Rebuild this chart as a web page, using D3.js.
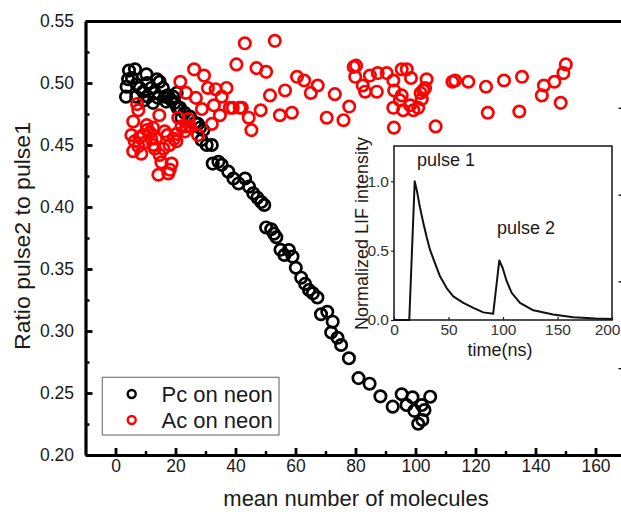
<!DOCTYPE html>
<html>
<head>
<meta charset="utf-8">
<script src="https://cdn.jsdelivr.net/npm/d3@7"></script>
<style>
  html, body { margin: 0; padding: 0; background: #fff; }
  svg { display: block; font-family: "Liberation Sans", Arial, sans-serif; }
</style>
</head>
<body>
<svg id="chart" width="621" height="516"></svg>
<script>
// ---------- data ----------
const pcX = [3.5,3.7,4.2,4.5,6.5,5.5,7,8.1,9.2,10.3,10.6,11.9,13.1,13.8,14.7,15.8,6.9,10.8,14.2,16.5,17.5,18.7,19.2,20.4,16.9,19.7,20.6,21.5,23,24.8,26.5,27.5,28.2,29.3,28.7,30.4,32.1,12.5,9.5,22,
  32.4,34.3,35.4,37.6,39.3,41,43.2,44.5,45.9,47.3,48.6,49.6,50.2,51.9,52.8,53.6,55,56.3,57.8,59,60.1,61.9,63.2,64.5,65.8,67.3,68.5,70.6,72.4,71.9,74,75.2,77.8,81,84.7,88.3,92.4,95.4,97,99,99.6,100.9,102.3,102.1,103,104.9];
const pcY = [0.489,0.497,0.503,0.510,0.511,0.504,0.499,0.496,0.493,0.507,0.500,0.496,0.492,0.503,0.501,0.496,0.489,0.489,0.488,0.489,0.490,0.486,0.489,0.492,0.485,0.484,0.480,0.480,0.476,0.473,0.468,0.467,0.464,0.462,0.454,0.450,0.450,0.484,0.486,0.472,
  0.435,0.4365,0.434,0.4285,0.423,0.419,0.423,0.4164,0.411,0.4075,0.404,0.4016,0.3835,0.382,0.3785,0.3756,0.3655,0.3613,0.3653,0.360,0.351,0.343,0.338,0.3331,0.3304,0.327,0.3135,0.3155,0.3075,0.2988,0.2945,0.2887,0.278,0.262,0.2575,0.2473,0.239,0.249,0.2403,0.2465,0.2356,0.2252,0.2282,0.2403,0.2363,0.247];

const acX = [7.2,7.6,5.9,10.4,14.6,5.3,6.4,5.9,7.6,9.2,9.8,8.6,11.5,11.9,12.6,13.1,14.7,15.3,14.3,17.6,18.7,18.1,17.3,16.4,19.5,20.4,20.3,20.9,23.2,23.6,24.8,24.3,27.5,10.5,8,12.5,16,18,22,13.5,
  21.6,23.5,26.2,29.5,26.8,28.8,30.8,33.4,35.4,37,32.8,34.8,32.1,38.1,41.4,40.3,43.1,44.4,45.3,47,50.2,48.4,51.5,53.1,54.8,56.5,58.8,60.5,62.9,65.1,67.4,70.4,73.1,76,77.9,79.4,80.2,79.9,82.4,83.2,84.8,87.4,87.1,90.4,92.6,92.9,95.4,97.1,98.5,94.8,92.6,92.8,98.2,95.9,100.9,102.6,103.7,102.1,103.2,101.7,95.4,99.3,106.7,112.3,113.2,117.6,123.5,124.1,129.5,134.6,135.5,142.1,142.8,146.3,149.3,150.1,148.4,39.1,42.1];
const acY = [0.483,0.478,0.469,0.466,0.474,0.458,0.453,0.445,0.449,0.458,0.452,0.443,0.460,0.455,0.450,0.447,0.442,0.436,0.426,0.427,0.435,0.430,0.458,0.461,0.455,0.459,0.453,0.472,0.461,0.465,0.465,0.471,0.458,0.462,0.456,0.464,0.447,0.450,0.465,0.455,
  0.501,0.492,0.511,0.506,0.488,0.479,0.496,0.495,0.489,0.496,0.482,0.474,0.467,0.480,0.480,0.515,0.532,0.472,0.462,0.512,0.509,0.478,0.490,0.534,0.474,0.494,0.476,0.505,0.502,0.492,0.498,0.472,0.491,0.470,0.481,0.513,0.514,0.505,0.498,0.493,0.506,0.508,0.493,0.508,0.502,0.494,0.511,0.511,0.504,0.486,0.480,0.464,0.482,0.478,0.480,0.494,0.503,0.487,0.496,0.492,0.490,0.478,0.465,0.501,0.502,0.501,0.497,0.476,0.502,0.477,0.505,0.490,0.498,0.501,0.508,0.515,0.484,0.480,0.480];

const xTicks = [0,20,40,60,80,100,120,140,160];
const xMinorTicks = [10,30,50,70,90,110,130,150];
const yTicks = [0.20,0.25,0.30,0.35,0.40,0.45,0.50,0.55];
const yMinorTicks = [0.225,0.275,0.325,0.375,0.425,0.475,0.525];

const seriesNames = ["Pc on neon", "Ac on neon"];
const seriesColors = ["#000000", "#ff0000"];

// inset trace
const insetTime = [0,14,19,20.8,23.9,26.9,29.9,33,37.6,42.2,48.3,54.4,63.6,72.8,82,91,96.6,99.7,103.4,108,115.6,127.8,146,164.5,185,200];
const insetInt  = [0,0,1.0,0.94,0.81,0.70,0.60,0.507,0.41,0.315,0.23,0.17,0.123,0.087,0.055,0.045,0.43,0.375,0.28,0.195,0.123,0.07,0.04,0.02,0.01,0.008];
const insetXTicks = [0,50,100,150,200];
const insetYTicks = [0.0,0.5,1.0];

// ---------- drawing ----------
const svg = d3.select("#chart");
const x = d3.scaleLinear().domain([-10,170]).range([85.5,625.5]);
const y = d3.scaleLinear().domain([0.20,0.55]).range([455,21]);
const textCol = "#1a1a1a";

// minor ticks
svg.append("g").attr("transform","translate(0,455)")
  .call(d3.axisBottom(x).tickValues(xMinorTicks).tickSizeInner(-4).tickSizeOuter(0).tickFormat(""))
  .call(g=>g.select(".domain").remove())
  .call(g=>g.selectAll("line").attr("stroke","#000").attr("stroke-width",2.5));
svg.append("g").attr("transform","translate(85.5,0)")
  .call(d3.axisLeft(y).tickValues(yMinorTicks).tickSizeInner(-4).tickSizeOuter(0).tickFormat(""))
  .call(g=>g.select(".domain").remove())
  .call(g=>g.selectAll("line").attr("stroke","#000").attr("stroke-width",2.5));

// major axes
const gx = svg.append("g").attr("transform","translate(0,455)")
  .call(d3.axisBottom(x).tickValues(xTicks).tickSizeInner(-7).tickSizeOuter(0).tickPadding(5).tickFormat(d3.format("d")));
const gy = svg.append("g").attr("transform","translate(85.5,0)")
  .call(d3.axisLeft(y).tickValues(yTicks).tickSizeInner(-7).tickSizeOuter(0).tickPadding(11.5).tickFormat(d3.format(".2f")));
[gx,gy].forEach(g=>{
  g.select(".domain").attr("stroke","#000").attr("stroke-width",3.2);
  g.selectAll(".tick line").attr("stroke","#000").attr("stroke-width",2.8);
  g.selectAll(".tick text").attr("fill",textCol).style("font-size","17.5px");
});
// top line
svg.append("g").attr("transform","translate(0,21)")
  .call(d3.axisTop(x).tickValues([]).tickSizeOuter(0))
  .call(g=>g.select(".domain").attr("stroke","#000").attr("stroke-width",2.8));
// right axis (mostly outside the frame)
const yr = d3.scaleLinear().domain([0,1]).range([455,21]);
svg.append("g").attr("transform","translate(625.5,0)")
  .call(d3.axisRight(yr).tickValues([0.2,0.4,0.6,0.8]).tickSizeInner(-7).tickSizeOuter(0).tickFormat(""))
  .call(g=>g.select(".domain").attr("stroke","#000").attr("stroke-width",2.8))
  .call(g=>g.selectAll("line").attr("stroke","#000").attr("stroke-width",1.3));

// titles
svg.append("text").attr("x",356).attr("y",506).attr("text-anchor","middle")
  .attr("fill",textCol).style("font-size","22px").text("mean number of molecules");
svg.append("text").attr("transform","translate(30,236) rotate(-90)").attr("text-anchor","middle")
  .attr("fill",textCol).style("font-size","22px")
  .attr("textLength",228).attr("lengthAdjust","spacingAndGlyphs").text("Ratio pulse2 to pulse1");

// points
const pc = pcX.map((v,i)=>({x:v,y:pcY[i]}));
const ac = acX.map((v,i)=>({x:v,y:acY[i]}));
[[pc,0],[ac,1]].forEach(([data,k])=>{
  svg.append("g").selectAll("circle").data(data).join("circle")
    .attr("cx",d=>x(d.x)).attr("cy",d=>y(d.y)).attr("r",5.7)
    .attr("fill","none").attr("stroke",seriesColors[k]).attr("stroke-width",2.7);
});

// legend
const leg = svg.append("g");
leg.append("rect").attr("x",102.3).attr("y",377.3).attr("width",176.7).attr("height",57.7)
  .attr("fill","#fff").attr("stroke","#7a7a7a").attr("stroke-width",1.2);
seriesNames.forEach((n,i)=>{
  leg.append("circle").attr("cx",131.7).attr("cy",394+i*26).attr("r",4)
    .attr("fill","none").attr("stroke",seriesColors[i]).attr("stroke-width",2.4);
  leg.append("text").attr("x",161.5).attr("y",401.5+i*26).attr("fill",textCol)
    .style("font-size","22px").text(n);
});

// inset
const ix = d3.scaleLinear().domain([0,200]).range([394,612]);
const iy = d3.scaleLinear().domain([0,1.255]).range([320,146]);
const ins = svg.append("g");
ins.append("rect").attr("x",394).attr("y",146).attr("width",218).attr("height",174)
  .attr("fill","#fff").attr("stroke","none");
const ixa = ins.append("g").attr("transform","translate(0,320)")
  .call(d3.axisBottom(ix).tickValues(insetXTicks).tickSizeInner(-3).tickSizeOuter(0).tickPadding(4).tickFormat(d3.format("d")));
const iya = ins.append("g").attr("transform","translate(394,0)")
  .call(d3.axisLeft(iy).tickValues(insetYTicks).tickSizeInner(3).tickSizeOuter(0).tickPadding(2).tickFormat(d3.format(".1f")));
[ixa,iya].forEach(g=>{
  g.select(".domain").remove();
  g.selectAll(".tick line").attr("stroke","#222").attr("stroke-width",1.2);
  g.selectAll(".tick text").attr("fill","#333").style("font-size","15.5px");
});
// keep the last inset label inside the window
ixa.selectAll(".tick text").filter(d=>d===200).attr("text-anchor","end").attr("x",8);
ins.append("rect").attr("x",394).attr("y",146).attr("width",218).attr("height",174)
  .attr("fill","none").attr("stroke","#222").attr("stroke-width",1.6);
const trace = insetTime.map((t,i)=>[t,insetInt[i]]);
ins.append("path").datum(trace)
  .attr("d",d3.line().x(d=>ix(d[0])).y(d=>iy(d[1])))
  .attr("fill","none").attr("stroke","#111").attr("stroke-width",2).attr("stroke-linejoin","round");
ins.append("text").attr("x",417).attr("y",166).attr("fill",textCol).style("font-size","18px").text("pulse 1");
ins.append("text").attr("x",497).attr("y",234).attr("fill",textCol).style("font-size","18px").text("pulse 2");
ins.append("text").attr("x",500).attr("y",356).attr("text-anchor","middle").attr("fill",textCol).style("font-size","18px").text("time(ns)");
ins.append("text").attr("transform","translate(368,233.5) rotate(-90)").attr("text-anchor","middle")
  .attr("fill",textCol).style("font-size","18px").text("Normalized LIF intensity");
</script>
</body>
</html>
